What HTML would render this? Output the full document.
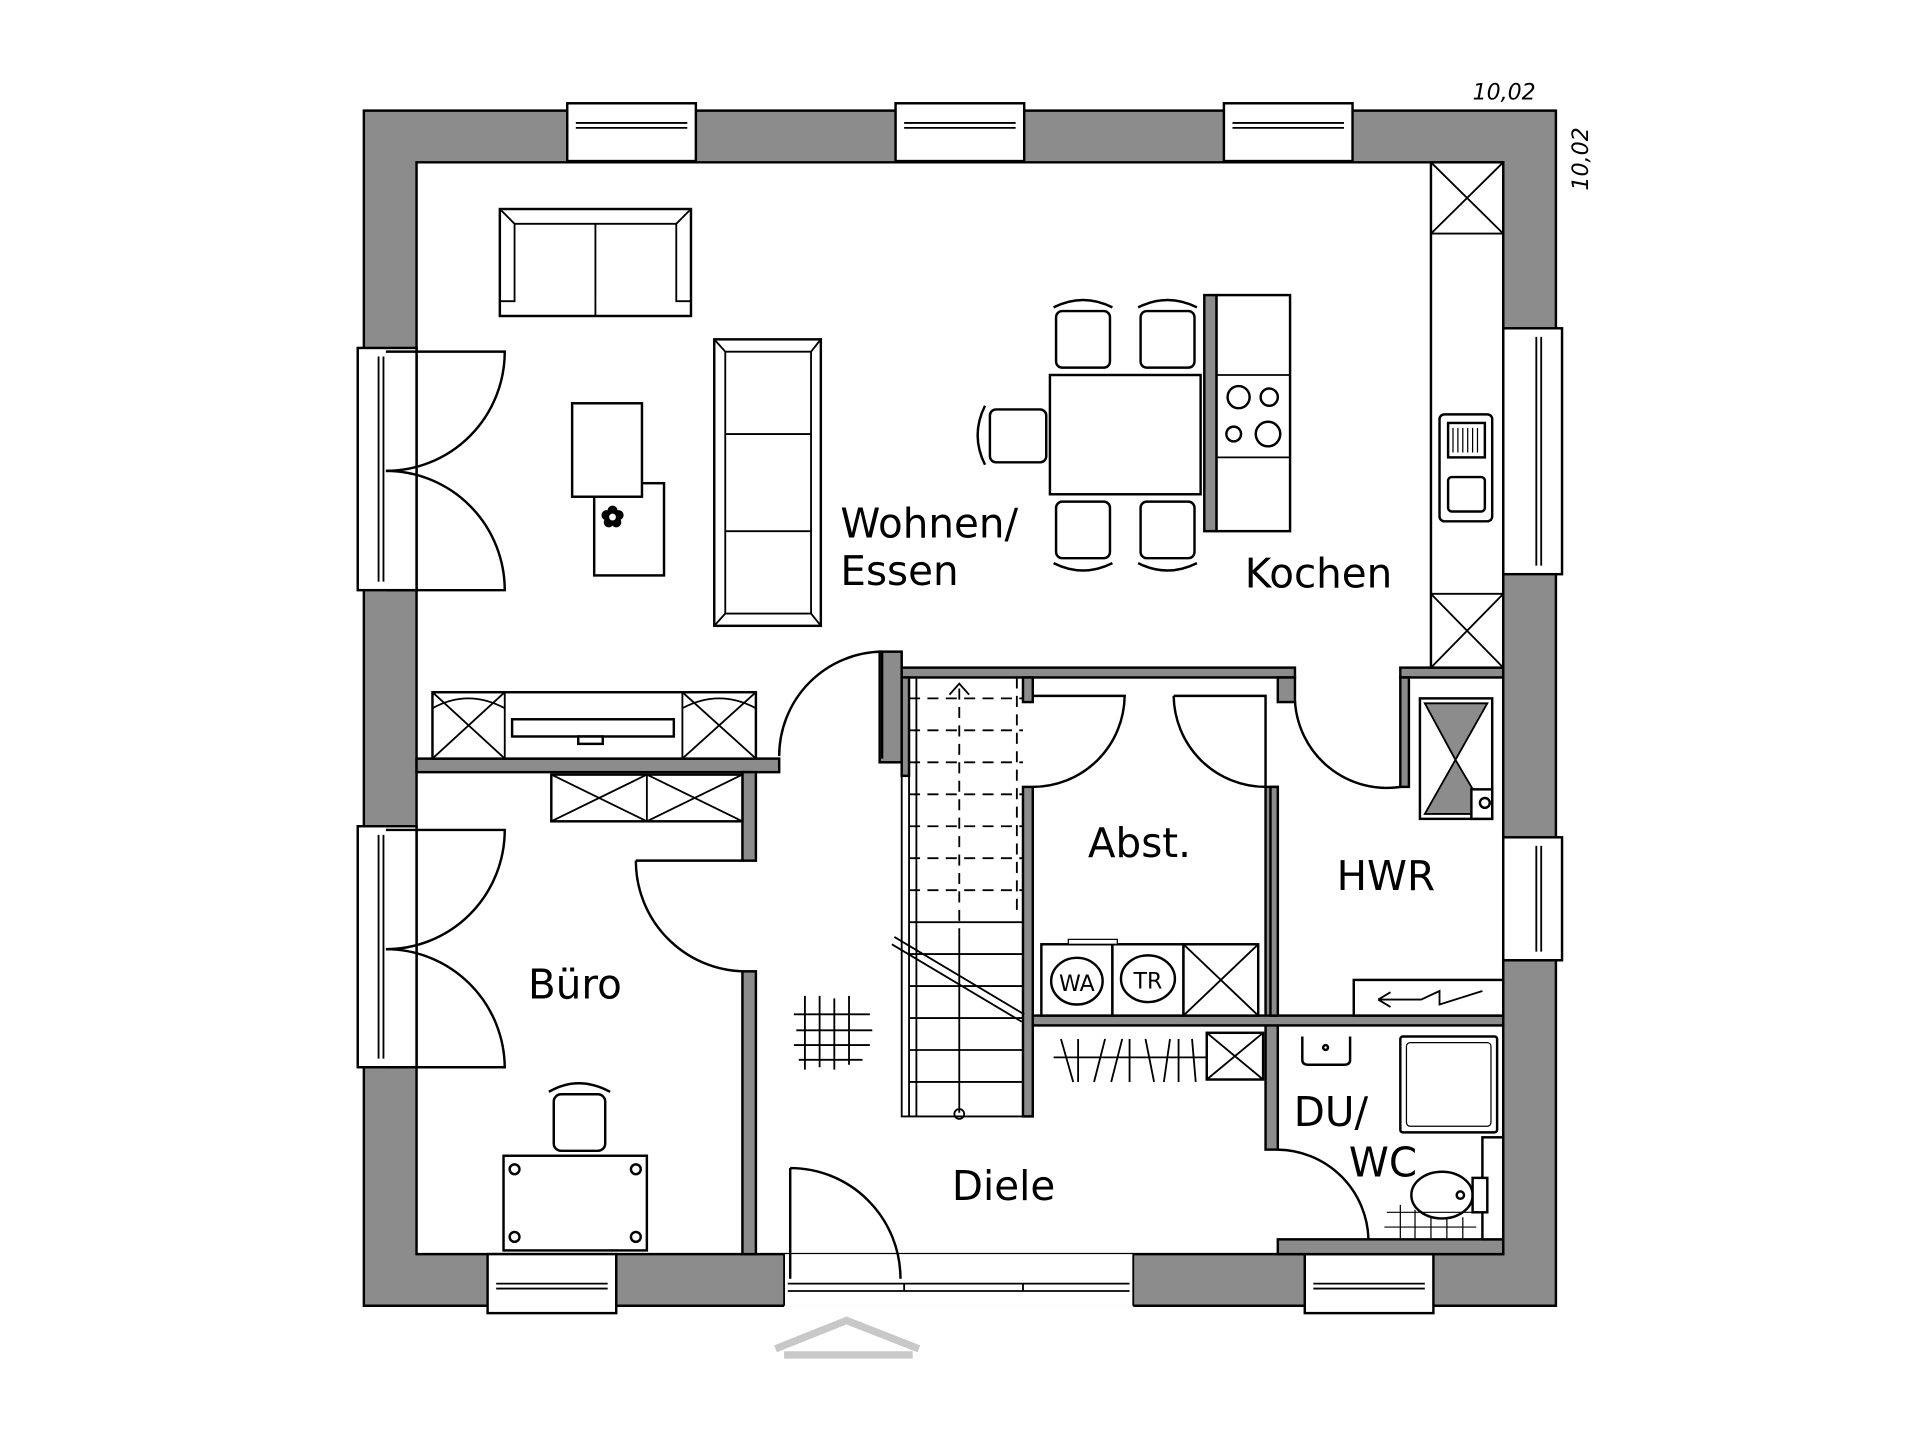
<!DOCTYPE html>
<html><head><meta charset="utf-8"><style>
html,body{margin:0;padding:0;background:#fff;}
svg{display:block;}
text{font-family:"DejaVu Sans","Liberation Sans",sans-serif;fill:#000;}
</style></head><body>
<svg width="1921" height="1441" viewBox="0 0 1568 1172" preserveAspectRatio="none" xmlns="http://www.w3.org/2000/svg">
<g stroke="#000" stroke-width="2">
<path d="M297,90 H1270 V1062 H297 Z M340,132 V1020 H1227 V132 Z" fill="#8c8c8c" fill-rule="evenodd"/>
<g fill="#fff">
<rect x="463" y="84" width="105" height="47"/><rect x="731" y="84" width="105" height="47"/><rect x="999" y="84" width="105" height="47"/>
<rect x="292" y="283" width="48" height="197"/><rect x="292" y="672" width="48" height="196"/>
<rect x="1227" y="267" width="48" height="200"/><rect x="1227" y="681" width="48" height="100"/>
<rect x="398" y="1020" width="105" height="48"/><rect x="1065" y="1020" width="105" height="48"/>
<rect x="640" y="1020" width="285" height="43" stroke="none"/>
</g>
<g fill="none" stroke-width="1.5">
<path d="M470,100 H561 M470,104 H561 M738,100 H829 M738,104 H829 M1006,100 H1097 M1006,104 H1097"/>
<path d="M309,290 V473 M313,290 V473 M309,679 V861 M313,679 V861"/>
<path d="M1254,274 V460 M1258,274 V460 M1254,688 V774 M1258,688 V774"/>
<path d="M405,1044 H496 M405,1048 H496 M1072,1044 H1163 M1072,1048 H1163"/>
<path d="M643,1044 H922 M643,1050 H922 M738,1044 V1050 M835,1044 V1050"/>
<line x1="640" y1="1020" x2="640" y2="1062"/><line x1="925" y1="1020" x2="925" y2="1062"/>
</g>
<g fill="#8c8c8c">
<rect x="340" y="617" width="296" height="11"/>
<rect x="606" y="628" width="11" height="72"/>
<rect x="606" y="790" width="11" height="230"/>
<rect x="718" y="530" width="18" height="90"/>
<rect x="736" y="543" width="321" height="8"/>
<rect x="835" y="551" width="8" height="20"/>
<rect x="835" y="640" width="8" height="268"/>
<rect x="1033" y="640" width="10" height="295"/>
<rect x="1043" y="551" width="14" height="20"/>
<rect x="1143" y="543" width="84" height="8"/>
<rect x="1143" y="551" width="7" height="89"/>
<rect x="843" y="826" width="384" height="8"/>
<rect x="1043" y="1008" width="184" height="12"/>
<rect x="1037" y="640" width="6" height="186"/>
<rect x="736" y="551" width="6" height="80"/>
</g>
<g fill="none">
<path d="M315,286 H412 A97,97 0 0 1 315,383"/><path d="M315,383 A97,97 0 0 1 412,480 H315"/>
<path d="M315,675 H412 A97,97 0 0 1 315,772"/><path d="M315,772 A97,97 0 0 1 412,868 H315"/>
<path d="M720,530 A85,85 0 0 0 636,615"/><line x1="720" y1="530" x2="720" y2="617"/>
<path d="M519,700 H606 M519,700 A90,90 0 0 0 606,790"/>
<path d="M843,566 H918 A75,75 0 0 1 843,640"/>
<path d="M958,566 H1033 V640 A75,75 0 0 1 958,566"/>
<path d="M1057,570 A75,75 0 0 0 1143,640"/>
<path d="M1043,935 A75,75 0 0 1 1117,1008"/>
<path d="M645,950 V1040 M645,950 A90,90 0 0 1 735,1040"/>
</g>
<g fill="#fff">
<rect x="408" y="170" width="156" height="87"/>
<path d="M408,170 L420,182 H552 L564,170 M420,182 V245 H408 M552,182 V245 H564 M486,182 V257" fill="none" stroke-width="1.5"/>
<rect x="583" y="276" width="87" height="233"/>
<path d="M583,276 L592,286 V499 L583,509 M592,286 H662 L670,276 M592,499 H662 L670,509 M662,286 V499 M592,353 H662 M592,432 H662" fill="none" stroke-width="1.5"/>
<rect x="485" y="393" width="57" height="75"/>
<rect x="467" y="328" width="57" height="76"/>
<text x="500" y="428" font-size="22" text-anchor="middle">✿</text>
<rect x="353" y="563" width="264" height="54"/>
<path d="M353,563 L412,617 M412,563 L353,617 M557,563 L617,617 M617,563 L557,617 M412,563 V617 M557,563 V617 M353,576 Q382,560 412,576 M557,576 Q587,560 617,576" fill="none" stroke-width="1.5"/>
<rect x="418" y="585" width="132" height="14"/><rect x="472" y="599" width="20" height="6"/>
<rect x="450" y="630" width="156" height="38"/>
<path d="M450,630 L528,668 M528,630 L450,668 M528,630 L606,668 M606,630 L528,668 M528,630 V668" fill="none" stroke-width="1.5"/>
</g>
<g fill="#fff">
<rect x="857" y="305" width="123" height="97"/>
<rect x="862" y="253" width="44" height="46" rx="5"/><rect x="931" y="253" width="44" height="46" rx="5"/>
<rect x="862" y="408" width="44" height="46" rx="5"/><rect x="931" y="408" width="44" height="46" rx="5"/>
<path d="M860,250 Q884,238 908,250 M929,250 Q953,238 977,250 M860,458 Q884,470 908,458 M929,458 Q953,470 977,458" fill="none"/>
<rect x="808" y="333" width="46" height="43" rx="5"/>
<path d="M804,330 Q792,354 804,378" fill="none"/>
<rect x="983" y="240" width="10" height="192" fill="#8c8c8c"/>
<rect x="993" y="240" width="60" height="192"/>
<path d="M993,305 H1053 M993,372 H1053" fill="none" stroke-width="1.5"/>
<circle cx="1011" cy="323" r="9"/><circle cx="1036" cy="323" r="7"/><circle cx="1007" cy="353" r="6"/><circle cx="1035" cy="353" r="10"/>
<rect x="1168" y="132" width="59" height="411"/>
<path d="M1168,190 H1227 M1168,483 H1227 M1168,132 L1227,190 M1227,132 L1168,190 M1168,483 L1227,543 M1227,483 L1168,543" fill="none" stroke-width="1.5"/>
<rect x="1175" y="337" width="43" height="87" rx="4"/>
<rect x="1182" y="344" width="30" height="28"/><rect x="1182" y="388" width="30" height="28" rx="3"/>
<path d="M1186,348 V368 M1190,348 V368 M1194,348 V368 M1198,348 V368 M1202,348 V368 M1206,348 V368" stroke-width="1"/>
</g>
<rect x="1159" y="568" width="59" height="98" fill="#fff"/>
<path d="M1163,572 H1214 L1188,618 Z M1163,662 H1214 L1188,618 Z" fill="#8c8c8c" stroke-width="1.5"/>
<rect x="1201" y="642" width="17" height="24" fill="#fff"/><circle cx="1212" cy="653" r="4" fill="none"/>
<rect x="1105" y="797" width="122" height="29" fill="#fff"/>
<path d="M1125,813 H1160 L1175,806 L1175,817 L1210,806 M1125,813 L1135,807 M1125,813 L1135,819" fill="none" stroke-width="1.5"/>
<rect x="850" y="768" width="58" height="58" fill="#fff"/><rect x="908" y="768" width="58" height="58" fill="#fff"/><rect x="966" y="768" width="61" height="58" fill="#fff"/>
<path d="M966,768 L1027,826 M1027,768 L966,826" stroke-width="1.5"/>
<rect x="872" y="764" width="40" height="4" fill="#fff" stroke-width="1"/>
<ellipse cx="879" cy="798" rx="21" ry="19" fill="none"/><ellipse cx="937" cy="796" rx="22" ry="19" fill="none"/>
<text x="879" y="806" font-size="18" text-anchor="middle" stroke="none">WA</text>
<text x="937" y="804" font-size="18" text-anchor="middle" stroke="none">TR</text>
<path d="M860,860 H985 M866,845 L876,880 M880,845 V880 M893,880 L902,845 M907,880 L916,845 M922,845 V880 M935,845 L942,880 M950,880 L955,845 M962,845 V880 M973,845 L976,880" stroke-width="1.5" fill="none"/>
<rect x="985" y="840" width="46" height="38" fill="#fff"/><path d="M985,840 L1031,878 M1031,840 L985,878" stroke-width="1.5"/>
<g fill="none" stroke-width="1.5">
<path d="M736,551 V908 H835 M742,551 V908 M748,551 V908" />
<path d="M742,568 H835 M742,594 H835 M742,620 H835 M742,646 H835 M742,672 H835 M742,698 H835 M742,724 H835" stroke-dasharray="9,6"/>
<path d="M742,750 H835 M742,776 H835 M742,802 H835 M742,828 H835 M742,854 H835 M742,880 H835"/>
<path d="M783,560 V760" stroke-dasharray="9,6"/><path d="M783,760 V905"/>
<path d="M775,565 L783,556 L791,565"/><circle cx="783" cy="906" r="4"/>
<path d="M730,762 L836,825 M728,768 L834,831"/>
<path d="M830,551 V740" stroke-dasharray="9,6"/>
</g>
<path d="M657,810 V870 M669,810 V868 M681,812 V870 M693,810 V866 M648,825 H710 M650,838 H712 M648,850 H710 M652,862 H704" stroke-width="1.5"/>
<rect x="411" y="940" width="117" height="77" fill="#fff"/>
<circle cx="420" cy="951" r="4" fill="none"/><circle cx="519" cy="951" r="4" fill="none"/><circle cx="420" cy="1006" r="4" fill="none"/><circle cx="519" cy="1006" r="4" fill="none"/>
<rect x="452" y="890" width="42" height="46" rx="6" fill="#fff"/>
<path d="M448,888 Q472,874 498,888" fill="none"/>
<rect x="1143" y="843" width="79" height="78" rx="2" fill="#fff"/><rect x="1148" y="848" width="69" height="68" rx="3" fill="none" stroke-width="1"/>
<path d="M1063,843 V862 Q1063,866 1068,866 H1097 Q1102,866 1102,862 V843" fill="none"/><circle cx="1082" cy="852" r="2" fill="none"/>
<rect x="1210" y="925" width="17" height="83" fill="#fff"/>
<ellipse cx="1177" cy="972" rx="25" ry="19" fill="#fff"/><rect x="1202" y="958" width="12" height="28" fill="#fff"/><circle cx="1192" cy="972" r="3" fill="none"/>
<path d="M1130,998 H1205 M1132,986 H1205 M1143,980 V1008 M1155,984 V1008 M1168,990 V1008 M1181,990 V1008 M1194,990 V1008" stroke-width="1"/>
</g>
<path d="M633,1097 L691,1074 L750,1097 M640,1102 H745" fill="none" stroke="#c8c8c8" stroke-width="6"/>
<g font-size="33">
<text x="686" y="437">Wohnen/</text>
<text x="686" y="476">Essen</text>
<text x="1016" y="478">Kochen</text>
<text x="888" y="697">Abst.</text>
<text x="1091" y="724">HWR</text>
<text x="431" y="812">Büro</text>
<text x="777" y="976">Diele</text>
<text x="1056" y="916">DU/</text>
<text x="1101" y="957">WC</text>
</g>
<text x="1202" y="81" font-size="18" font-style="italic">10,02</text>
<text x="1296" y="155" font-size="18" font-style="italic" transform="rotate(-90 1296 155)">10,02</text>
</svg>
</body></html>
